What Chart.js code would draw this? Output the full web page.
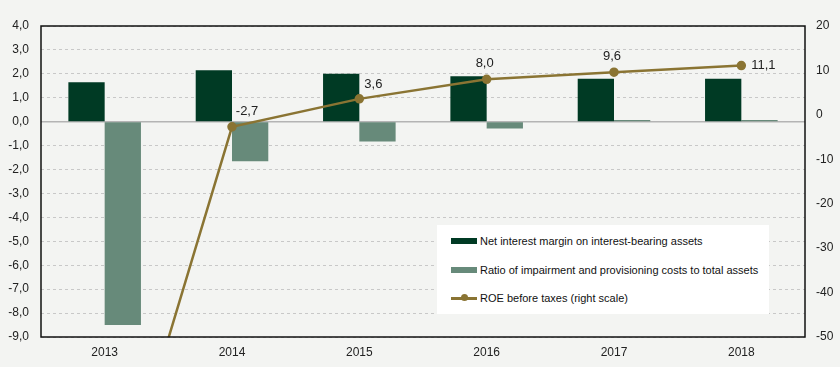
<!DOCTYPE html>
<html>
<head>
<meta charset="utf-8">
<script src="https://cdn.jsdelivr.net/npm/chart.js@4"></script>
<style>
  html, body { margin: 0; padding: 0; background: #f3f4f2; }
  #wrap { position: relative; width: 840px; height: 367px; }
  #legend {
    position: absolute; left: 437px; top: 225px; width: 332px; height: 89px; overflow: hidden;
    background: #ffffff; font: 11px "Liberation Sans", Arial, sans-serif; color: #111;
  }
  .row { position: absolute; left: 14px; height: 14px; line-height: 14px; white-space: nowrap; }
  .sw { display: inline-block; vertical-align: middle; width: 26px; height: 6px; margin-right: 3px; position: relative; top: -1px; }
  .ln { display: inline-block; vertical-align: middle; width: 26px; height: 3px; margin-right: 3px; position: relative; top: -1px; background: #8a7433; }
  .ln i { position: absolute; left: 10px; top: -2.5px; width: 7px; height: 7px; border-radius: 50%; background: #8a7433; }
</style>
</head>
<body>
<div id="wrap">
  <canvas id="chart" width="840" height="367"></canvas>
  <div id="legend">
    <div class="row" style="top:9px"><span class="sw" style="background:#003a24"></span>Net interest margin on interest-bearing assets</div>
    <div class="row" style="top:38px"><span class="sw" style="background:#678a7a"></span>Ratio of impairment and provisioning costs to total assets</div>
    <div class="row" style="top:66px"><span class="ln"><i></i></span>ROE before taxes (right scale)</div>
  </div>
</div>
<script>
const years = ['2013', '2014', '2015', '2016', '2017', '2018'];
const netInterestMargin = [1.65, 2.15, 2.0, 1.9, 1.8, 1.8];
const impairmentRatio = [-8.5, -1.65, -0.83, -0.28, 0.07, 0.07];
const roeBeforeTaxes = [-98, -2.7, 3.6, 8.0, 9.6, 11.1];
const roeLabels = ['', '-2,7', '3,6', '8,0', '9,6', '11,1'];

const labelOffsets = [[0, 0], [15, -15], [14, -14], [-2, -16], [-2, -16], [22, 0]];

const framePlugin = {
    id: 'frame',
    beforeDatasetsDraw(chart) {
        const { ctx, chartArea: a, scales } = chart;
        const y0 = scales.y.getPixelForValue(0);
        ctx.save();
        ctx.strokeStyle = '#b4b4b4';
        ctx.lineWidth = 1.5;
        ctx.beginPath();
        ctx.moveTo(a.left, y0);
        ctx.lineTo(a.right, y0);
        ctx.stroke();
        ctx.restore();
    },
    afterDatasetsDraw(chart) {
        const { ctx, chartArea: a } = chart;
        ctx.save();
        ctx.strokeStyle = '#111';
        ctx.lineWidth = 1.5;
        ctx.strokeRect(a.left, a.top, a.right - a.left, a.bottom - a.top);
        // point labels for ROE line
        const meta = chart.getDatasetMeta(2);
        ctx.font = '13px "Liberation Sans", Arial, sans-serif';
        ctx.fillStyle = '#222';
        ctx.textAlign = 'center';
        ctx.textBaseline = 'middle';
        meta.data.forEach((pt, i) => {
            if (!roeLabels[i]) return;
            ctx.fillText(roeLabels[i], pt.x + labelOffsets[i][0], pt.y + labelOffsets[i][1]);
        });
        ctx.restore();
    }
};

new Chart(document.getElementById('chart').getContext('2d'), {
    type: 'bar',
    data: {
        labels: years,
        datasets: [
            {
                label: 'Net interest margin on interest-bearing assets',
                data: netInterestMargin,
                backgroundColor: '#003a24',
                yAxisID: 'y',
                order: 2,
                barPercentage: 1,
                categoryPercentage: 0.57
            },
            {
                label: 'Ratio of impairment and provisioning costs to total assets',
                data: impairmentRatio,
                backgroundColor: '#678a7a',
                yAxisID: 'y',
                order: 2,
                barPercentage: 1,
                categoryPercentage: 0.57
            },
            {
                type: 'line',
                label: 'ROE before taxes (right scale)',
                data: roeBeforeTaxes,
                borderColor: '#8a7433',
                backgroundColor: '#8a7433',
                borderWidth: 2.5,
                pointRadius: 3.5,
                pointHoverRadius: 3.5,
                tension: 0,
                yAxisID: 'y1',
                order: 1
            }
        ]
    },
    options: {
        responsive: false,
        animation: false,
        layout: { padding: { top: 26, bottom: 0, left: 0, right: 0 } },
        plugins: { legend: { display: false }, tooltip: { enabled: false } },
        scales: {
            x: {
                grid: { display: false, drawTicks: false },
                border: { display: false },
                ticks: { color: '#222', font: { size: 12, family: 'Liberation Sans' }, padding: 8 },
                afterFit(s) { s.height = 30; }
            },
            y: {
                position: 'left',
                min: -9, max: 4,
                ticks: { stepSize: 1, color: '#222', padding: 12, font: { size: 12, family: 'Liberation Sans' },
                    callback: v => v.toFixed(1).replace('.', ',') },
                grid: { color: c => c.tick.value === 0 ? 'rgba(0,0,0,0)' : '#c8c8c8', drawTicks: false, lineWidth: 1 },
                border: { display: false, dash: [3, 3] },
                afterFit(s) { s.width = 41; }
            },
            y1: {
                position: 'right',
                min: -50, max: 20,
                ticks: { stepSize: 10, color: '#222', padding: 11, font: { size: 12, family: 'Liberation Sans' } },
                grid: { display: false, drawTicks: false },
                border: { display: false },
                afterFit(s) { s.width = 35; }
            }
        }
    },
    plugins: [framePlugin]
});
</script>
</body>
</html>
